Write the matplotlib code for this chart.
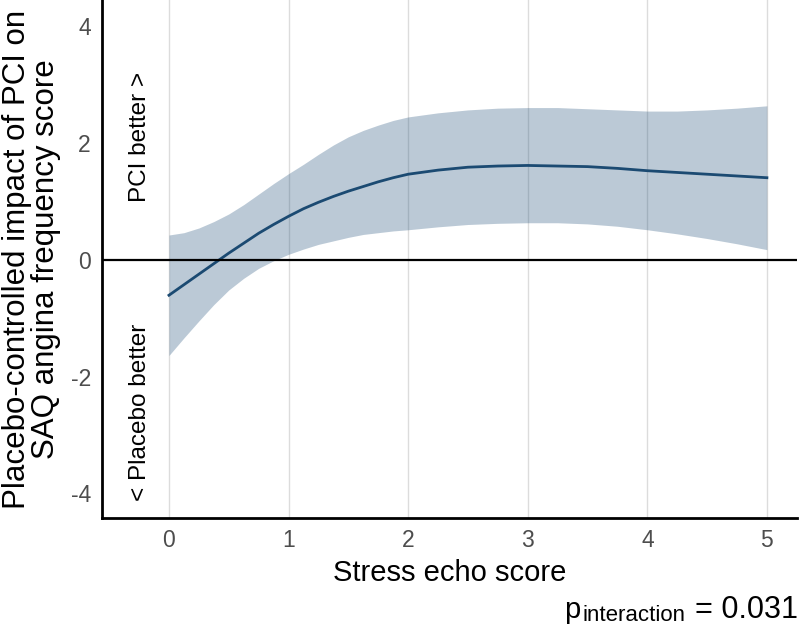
import numpy as np
from matplotlib import pyplot as plt

plt.rcParams['font.family'] = ['Liberation Sans', 'DejaVu Sans']
plt.rcParams['axes.unicode_minus'] = False

# stress echo score and the fitted effect with its confidence band
score = [0, 0.125, 0.25, 0.375, 0.5, 0.625, 0.75, 0.875, 1,
         1.125, 1.25, 1.375, 1.5, 1.625, 1.75, 1.875, 2,
         2.25, 2.5, 2.75, 3, 3.25, 3.5, 3.75, 4, 4.25, 4.5, 4.75, 5]
effect = [-0.61, -0.43, -0.25, -0.07, 0.11, 0.28, 0.45, 0.60, 0.74,
          0.87, 0.98, 1.08, 1.17, 1.25, 1.33, 1.40, 1.46,
          1.53, 1.58, 1.60, 1.61, 1.60, 1.59, 1.56, 1.52, 1.49, 1.46, 1.43, 1.40]
upper = [0.42, 0.46, 0.54, 0.65, 0.78, 0.94, 1.12, 1.30, 1.47,
         1.63, 1.80, 1.96, 2.10, 2.21, 2.30, 2.38, 2.44,
         2.51, 2.56, 2.59, 2.60, 2.60, 2.58, 2.56, 2.54, 2.54, 2.56, 2.59, 2.63]
lower = [-1.64, -1.34, -1.05, -0.77, -0.52, -0.32, -0.15, -0.02, 0.09,
         0.18, 0.26, 0.32, 0.38, 0.43, 0.46, 0.49, 0.51,
         0.56, 0.60, 0.62, 0.63, 0.63, 0.61, 0.57, 0.51, 0.44, 0.36, 0.27, 0.17]

xticks = [0, 1, 2, 3, 4, 5]
yticks = [-4, -2, 0, 2, 4]

fig = plt.figure(figsize=(8, 6.29), dpi=100)
ax = fig.add_axes([0.1275, 0.1765, 0.8685, 0.8235])

ax.fill_between(score, lower, upper, color='#1f4e79', alpha=0.3,
                linewidth=0, zorder=2)
ax.plot(score, effect, color='#1b4a72', lw=2, zorder=3)
ax.axhline(0, color='black', lw=1.6, zorder=4)

ax.set_xlim(-0.56, 5.25)
ax.set_ylim(-4.42, 4.44)
ax.set_xticks(xticks)
ax.set_yticks(yticks)
ax.tick_params(length=0, labelsize=16.5, labelcolor='#4d4d4d', pad=8)

ax.grid(axis='x', color='#dcdcdc', lw=1, zorder=1)
ax.set_axisbelow(True)
for side in ['top', 'right']:
    ax.spines[side].set_visible(False)
for side in ['left', 'bottom']:
    ax.spines[side].set_linewidth(2)
    ax.spines[side].set_color('black')

ax.text(-0.245, 2.10, 'PCI better >', rotation=90, fontsize=17.5,
        ha='center', va='center')
ax.text(-0.245, -2.61, '< Placebo better', rotation=90, fontsize=17.5,
        ha='center', va='center')

fig.text(0.003, 0.588, 'Placebo-controlled impact of PCI on\nSAQ angina frequency score',
         rotation=90, fontsize=22.5, ha='left', va='center',
         multialignment='center', linespacing=0.95)
fig.text(0.5625, 0.0768, 'Stress echo score', fontsize=21,
         ha='center', va='baseline')

# p-value with a large subscript, built from three pieces
fig.text(0.705, 0.017, 'p', fontsize=21, ha='left', va='baseline')
fig.text(0.7275, 0.0135, 'interaction', fontsize=16, ha='left', va='baseline')
fig.text(0.997, 0.017, '= 0.031', fontsize=22, ha='right', va='baseline')

fig.savefig('out.png', dpi=100)
